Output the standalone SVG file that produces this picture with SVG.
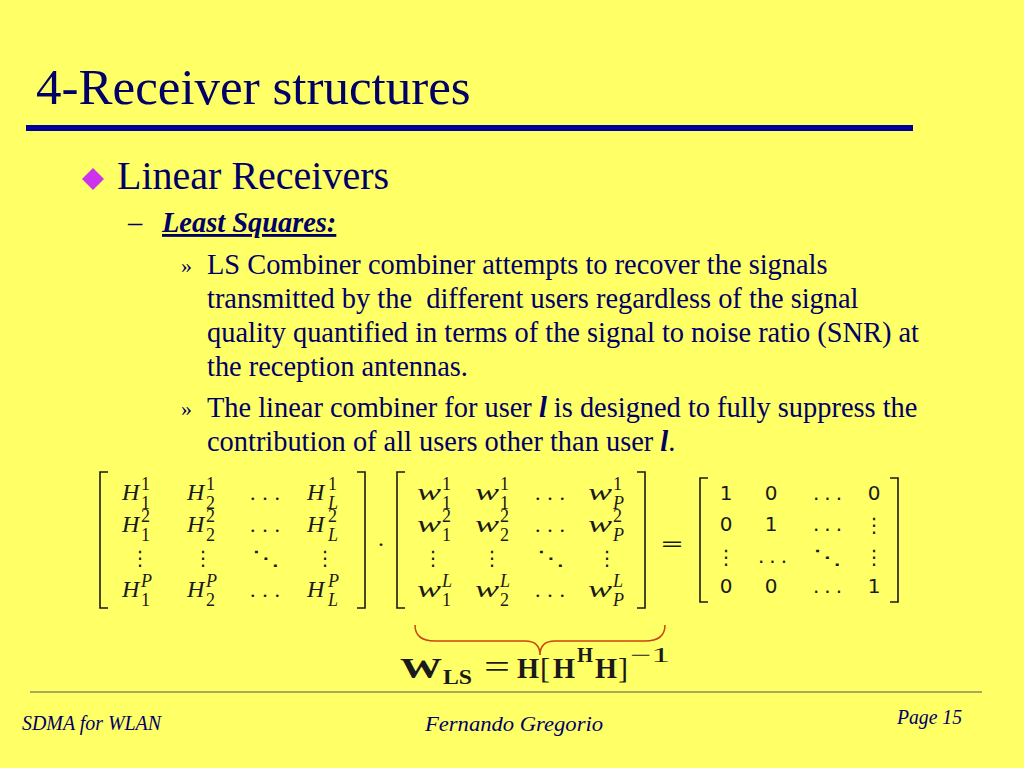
<svg xmlns="http://www.w3.org/2000/svg" width="1024" height="768" viewBox="0 0 1024 768">
<style>
.t{font-family:"Liberation Serif",serif;fill:#000066}
.b{font-size:28.4px}
.m{font-family:"Liberation Serif",serif;fill:#1a1a1a}
.mi{font-style:italic;font-size:24px}
.sc{font-size:18px}
.sci{font-size:18px;font-style:italic}
.d{font-family:"DejaVu Sans",sans-serif;fill:#1a1a1a;font-size:20px}
.br{fill:none;stroke:#1a1a1a;stroke-width:1.6}
.f{font-family:"Liberation Serif",serif;font-style:italic;fill:#000066;font-size:20px}
</style>
<rect width="1024" height="768" fill="#FFFF66"/>
<g id="title">
<text class="t" x="36" y="104" font-size="51">4-Receiver structures</text>
<rect x="26" y="125" width="887" height="6" fill="#000099"/>
</g>
<g id="bullets">
<path d="M93,168 L104,179 L93,190 L82,179 Z" fill="#CC33EE"/>
<text class="t" x="117" y="189" font-size="40">Linear Receivers</text>
<text class="t" x="128" y="232" font-size="28.4">–</text>
<text class="t" x="162" y="232" font-size="28.4" font-weight="bold" font-style="italic" text-decoration="underline">Least Squares:</text>
<text class="t" x="181" y="273" font-size="22">»</text>
<text class="t b" x="207" y="274">LS Combiner combiner attempts to recover the signals</text>
<text class="t b" x="207" y="308" xml:space="preserve">transmitted by the  different users regardless of the signal</text>
<text class="t b" x="207" y="342">quality quantified in terms of the signal to noise ratio (SNR) at</text>
<text class="t b" x="207" y="376">the reception antennas.</text>
<text class="t" x="181" y="416" font-size="22">»</text>
<text class="t b" x="207" y="417">The linear combiner for user <tspan font-weight="bold" font-style="italic">l</tspan> is designed to fully suppress the</text>
<text class="t b" x="207" y="451">contribution of all users other than user <tspan font-weight="bold" font-style="italic">l</tspan>.</text>
</g>
<g id="matrixH">
<path class="br" d="M108,472 H100 V608 H108"/>
<path class="br" d="M357,472 H365 V608 H357"/>
<text class="m mi" x="122" y="500">H</text><text class="m sc" x="141" y="490">1</text><text class="m sc" x="141" y="509">1</text>
<text class="m mi" x="187" y="500">H</text><text class="m sc" x="206" y="490">1</text><text class="m sc" x="206" y="509">2</text>
<text class="m" x="250" y="500" font-size="22" textLength="30" lengthAdjust="spacing">...</text>
<text class="m mi" x="307" y="500">H</text><text class="m sc" x="328" y="490">1</text><text class="m sci" x="328" y="509">L</text>
<text class="m mi" x="122" y="532">H</text><text class="m sc" x="141" y="522">2</text><text class="m sc" x="141" y="541">1</text>
<text class="m mi" x="187" y="532">H</text><text class="m sc" x="206" y="522">2</text><text class="m sc" x="206" y="541">2</text>
<text class="m" x="250" y="532" font-size="22" textLength="30" lengthAdjust="spacing">...</text>
<text class="m mi" x="307" y="532">H</text><text class="m sc" x="328" y="522">2</text><text class="m sci" x="328" y="541">L</text>
<text class="d" x="140" y="565" text-anchor="middle" font-size="18">⋮</text>
<text class="d" x="203" y="565" text-anchor="middle" font-size="18">⋮</text>
<text class="d" x="252" y="565" textLength="28" lengthAdjust="spacingAndGlyphs" font-size="18">⋱</text>
<text class="d" x="325" y="565" text-anchor="middle" font-size="18">⋮</text>
<text class="m mi" x="122" y="597">H</text><text class="m sci" x="141" y="587">P</text><text class="m sc" x="141" y="606">1</text>
<text class="m mi" x="187" y="597">H</text><text class="m sci" x="206" y="587">P</text><text class="m sc" x="206" y="606">2</text>
<text class="m" x="250" y="597" font-size="22" textLength="30" lengthAdjust="spacing">...</text>
<text class="m mi" x="307" y="597">H</text><text class="m sci" x="328" y="587">P</text><text class="m sci" x="328" y="606">L</text>
<text class="m" x="377" y="552" font-size="24">·</text>
</g>
<g id="matrixW">
<path class="br" d="M405,472 H397 V608 H405"/>
<path class="br" d="M637,472 H645 V608 H637"/>
<text class="m mi" x="417" y="500" font-size="26" textLength="24" lengthAdjust="spacingAndGlyphs">w</text><text class="m sc" x="442" y="490">1</text><text class="m sc" x="442" y="509">1</text>
<text class="m mi" x="475" y="500" font-size="26" textLength="24" lengthAdjust="spacingAndGlyphs">w</text><text class="m sc" x="500" y="490">1</text><text class="m sc" x="500" y="509">1</text>
<text class="m" x="535" y="500" font-size="22" textLength="30" lengthAdjust="spacing">...</text>
<text class="m mi" x="588" y="500" font-size="26" textLength="24" lengthAdjust="spacingAndGlyphs">w</text><text class="m sc" x="613" y="490">1</text><text class="m sci" x="613" y="509">P</text>
<text class="m mi" x="417" y="532" font-size="26" textLength="24" lengthAdjust="spacingAndGlyphs">w</text><text class="m sc" x="442" y="522">2</text><text class="m sc" x="442" y="541">1</text>
<text class="m mi" x="475" y="532" font-size="26" textLength="24" lengthAdjust="spacingAndGlyphs">w</text><text class="m sc" x="500" y="522">2</text><text class="m sc" x="500" y="541">2</text>
<text class="m" x="535" y="532" font-size="22" textLength="30" lengthAdjust="spacing">...</text>
<text class="m mi" x="588" y="532" font-size="26" textLength="24" lengthAdjust="spacingAndGlyphs">w</text><text class="m sc" x="613" y="522">2</text><text class="m sci" x="613" y="541">P</text>
<text class="d" x="433" y="565" text-anchor="middle" font-size="18">⋮</text>
<text class="d" x="492" y="565" text-anchor="middle" font-size="18">⋮</text>
<text class="d" x="537" y="565" textLength="28" lengthAdjust="spacingAndGlyphs" font-size="18">⋱</text>
<text class="d" x="607" y="565" text-anchor="middle" font-size="18">⋮</text>
<text class="m mi" x="417" y="597" font-size="26" textLength="24" lengthAdjust="spacingAndGlyphs">w</text><text class="m sci" x="442" y="587">L</text><text class="m sc" x="442" y="606">1</text>
<text class="m mi" x="475" y="597" font-size="26" textLength="24" lengthAdjust="spacingAndGlyphs">w</text><text class="m sci" x="500" y="587">L</text><text class="m sc" x="500" y="606">2</text>
<text class="m" x="535" y="597" font-size="22" textLength="30" lengthAdjust="spacing">...</text>
<text class="m mi" x="588" y="597" font-size="26" textLength="24" lengthAdjust="spacingAndGlyphs">w</text><text class="m sci" x="613" y="587">L</text><text class="m sci" x="613" y="606">P</text>
<text class="d" x="660" y="550" font-size="30" textLength="24" lengthAdjust="spacingAndGlyphs">=</text>
</g>
<g id="matrixI">
<path class="br" d="M708,478 H700 V602 H708"/>
<path class="br" d="M890,478 H898 V602 H890"/>
<text class="d" x="726" y="500" text-anchor="middle">1</text>
<text class="d" x="771" y="500" text-anchor="middle">0</text>
<text class="d" x="813" y="500" textLength="29" lengthAdjust="spacing">...</text>
<text class="d" x="874" y="500" text-anchor="middle">0</text>
<text class="d" x="726" y="531" text-anchor="middle">0</text>
<text class="d" x="771" y="531" text-anchor="middle">1</text>
<text class="d" x="813" y="531" textLength="29" lengthAdjust="spacing">...</text>
<text class="d" x="874" y="532" text-anchor="middle" font-size="18">⋮</text>
<text class="d" x="726" y="564" text-anchor="middle" font-size="18">⋮</text>
<text class="d" x="758" y="563" textLength="29" lengthAdjust="spacing">...</text>
<text class="d" x="813" y="564" textLength="29" lengthAdjust="spacingAndGlyphs" font-size="18">⋱</text>
<text class="d" x="874" y="564" text-anchor="middle" font-size="18">⋮</text>
<text class="d" x="726" y="593" text-anchor="middle">0</text>
<text class="d" x="771" y="593" text-anchor="middle">0</text>
<text class="d" x="813" y="593" textLength="29" lengthAdjust="spacing">...</text>
<text class="d" x="874" y="593" text-anchor="middle">1</text>
</g>
<g id="brace">
<path d="M415,625 Q415,641 435,641 L525,641 Q540,641 540,655 Q540,641 555,641 L645,641 Q665,641 665,625" fill="none" stroke="#CC4411" stroke-width="1.5"/>
</g>
<g id="formula" font-family="Liberation Serif, serif" fill="#1a1a1a">
<text x="400" y="678" font-size="30" font-weight="bold" textLength="42" lengthAdjust="spacingAndGlyphs">W</text>
<text x="443" y="684" font-size="21" font-weight="bold" textLength="29" lengthAdjust="spacingAndGlyphs">LS</text>
<text x="484" y="678" font-size="34" textLength="26" lengthAdjust="spacingAndGlyphs">=</text>
<text x="517" y="678" font-size="30" font-weight="bold" textLength="22" lengthAdjust="spacingAndGlyphs">H</text>
<text x="540" y="678" font-size="30">[</text>
<text x="553" y="678" font-size="30" font-weight="bold" textLength="22" lengthAdjust="spacingAndGlyphs">H</text>
<text x="577" y="662" font-size="21" font-weight="bold" textLength="16" lengthAdjust="spacingAndGlyphs">H</text>
<text x="595" y="678" font-size="30" font-weight="bold" textLength="22" lengthAdjust="spacingAndGlyphs">H</text>
<text x="618" y="678" font-size="30">]</text>
<text x="630" y="662" font-size="21" textLength="40" lengthAdjust="spacingAndGlyphs">−1</text>
</g>
<g id="footer">
<line x1="30" y1="692" x2="982" y2="692" stroke="#555555" stroke-width="1"/>
<text class="f" x="22" y="730" textLength="139" lengthAdjust="spacingAndGlyphs">SDMA for WLAN</text>
<text class="f" x="425" y="731" textLength="178" lengthAdjust="spacingAndGlyphs">Fernando Gregorio</text>
<text class="f" x="897" y="724" textLength="65" lengthAdjust="spacingAndGlyphs">Page 15</text>
</g>
</svg>
